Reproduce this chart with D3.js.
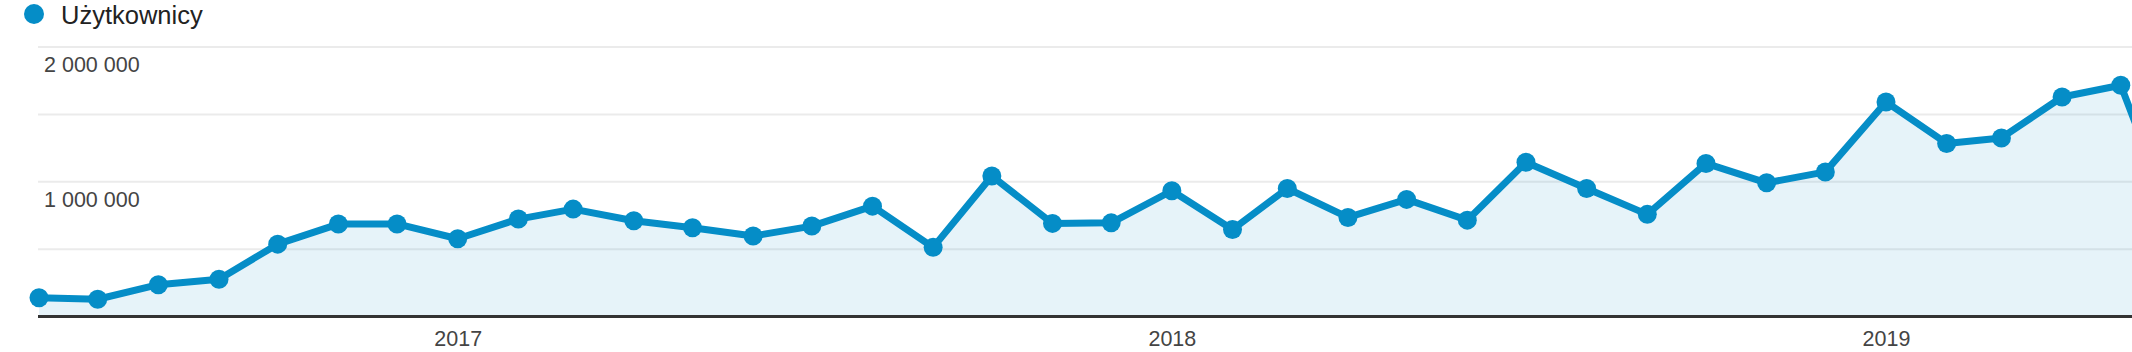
<!DOCTYPE html>
<html>
<head>
<meta charset="utf-8">
<script src="https://cdn.jsdelivr.net/npm/d3@7"></script>
<style>
  html, body { margin: 0; padding: 0; background: #fff; overflow: hidden; }
  text { font-family: Arial, "Liberation Sans", sans-serif; }
</style>
</head>
<body>
<div id="chart"></div>
<script>
// monthly users, Jun 2016 .. Jun 2019 (last month is partial)
const months = [
  "2016-06", "2016-07", "2016-08", "2016-09", "2016-10", "2016-11", "2016-12",
  "2017-01", "2017-02", "2017-03", "2017-04", "2017-05", "2017-06",
  "2017-07", "2017-08", "2017-09", "2017-10", "2017-11", "2017-12",
  "2018-01", "2018-02", "2018-03", "2018-04", "2018-05", "2018-06",
  "2018-07", "2018-08", "2018-09", "2018-10", "2018-11", "2018-12",
  "2019-01", "2019-02", "2019-03", "2019-04", "2019-05", "2019-06"
];
const users = [
  139000, 128000, 236000, 277000, 537000, 686000, 687000,
  577000, 723000, 797000, 711000, 658000, 597000,
  671000, 819000, 513000, 1042000, 691000, 695000,
  933000, 646000, 950000, 735000, 869000, 715000,
  1145000, 950000, 758000, 1136000, 992000, 1073000,
  1592000, 1284000, 1325000, 1629000, 1716000, 540000
];
const seriesName = "Użytkownicy";
const gridValues = [500000, 1000000, 1500000, 2000000];
const labelValues = [1000000, 2000000];
const yearTicks = ["2017-01", "2018-01", "2019-01"];

const width = 2132, height = 352;
const blue = "#058dc7";
const parse = d3.timeParse("%Y-%m");

const data = months.map((m, i) => ({ date: parse(m), value: users[i] }));

const svg = d3.select("#chart").append("svg")
  .attr("width", width)
  .attr("height", height);

const x = d3.scaleTime()
  .domain([parse("2016-06"), parse("2019-01")])
  .range([39, 1886]);

const y = d3.scaleLinear()
  .domain([0, 2000000])
  .range([316.5, 47]);

// grid
svg.append("g")
  .selectAll("line")
  .data(gridValues)
  .join("line")
  .attr("x1", 38)
  .attr("x2", width)
  .attr("y1", d => y(d))
  .attr("y2", d => y(d))
  .attr("stroke", "#ebebeb")
  .attr("stroke-width", 2);

// value labels
const fmt = v => d3.format(",")(v).replace(/,/g, " ");
svg.append("g")
  .selectAll("text")
  .data(labelValues)
  .join("text")
  .attr("x", 44)
  .attr("y", d => y(d) + 25)
  .attr("font-size", 21.5)
  .attr("fill", "#444")
  .text(d => fmt(d));

// area + line
const area = d3.area()
  .x(d => x(d.date))
  .y0(y(0))
  .y1(d => y(d.value));

svg.append("path")
  .datum(data)
  .attr("d", area)
  .attr("fill", blue)
  .attr("fill-opacity", 0.1);

const line = d3.line()
  .x(d => x(d.date))
  .y(d => y(d.value));

svg.append("path")
  .datum(data)
  .attr("d", line)
  .attr("fill", "none")
  .attr("stroke", blue)
  .attr("stroke-width", 7)
  .attr("stroke-linejoin", "round");

svg.append("g")
  .selectAll("circle")
  .data(data)
  .join("circle")
  .attr("cx", d => x(d.date))
  .attr("cy", d => y(d.value))
  .attr("r", 9.5)
  .attr("fill", blue);

// x axis
const xAxis = svg.append("g")
  .attr("transform", `translate(0,${y(0)})`)
  .call(d3.axisBottom(x)
    .tickValues(yearTicks.map(parse))
    .tickFormat(d3.timeFormat("%Y"))
    .tickSize(0)
    .tickPadding(14));
xAxis.select(".domain").remove();
xAxis.selectAll("text")
  .attr("font-size", 21.5)
  .attr("fill", "#444");

svg.append("line")
  .attr("x1", 38)
  .attr("x2", width)
  .attr("y1", y(0))
  .attr("y2", y(0))
  .attr("stroke", "#333")
  .attr("stroke-width", 3);

// legend
const legend = svg.append("g");
legend.append("circle")
  .attr("cx", 34)
  .attr("cy", 14)
  .attr("r", 10)
  .attr("fill", blue);
legend.append("text")
  .attr("x", 61)
  .attr("y", 24)
  .attr("font-family", "Roboto, Arial, sans-serif")
  .attr("font-size", 25.5)
  .attr("fill", "#222")
  .text(seriesName);
</script>
</body>
</html>
